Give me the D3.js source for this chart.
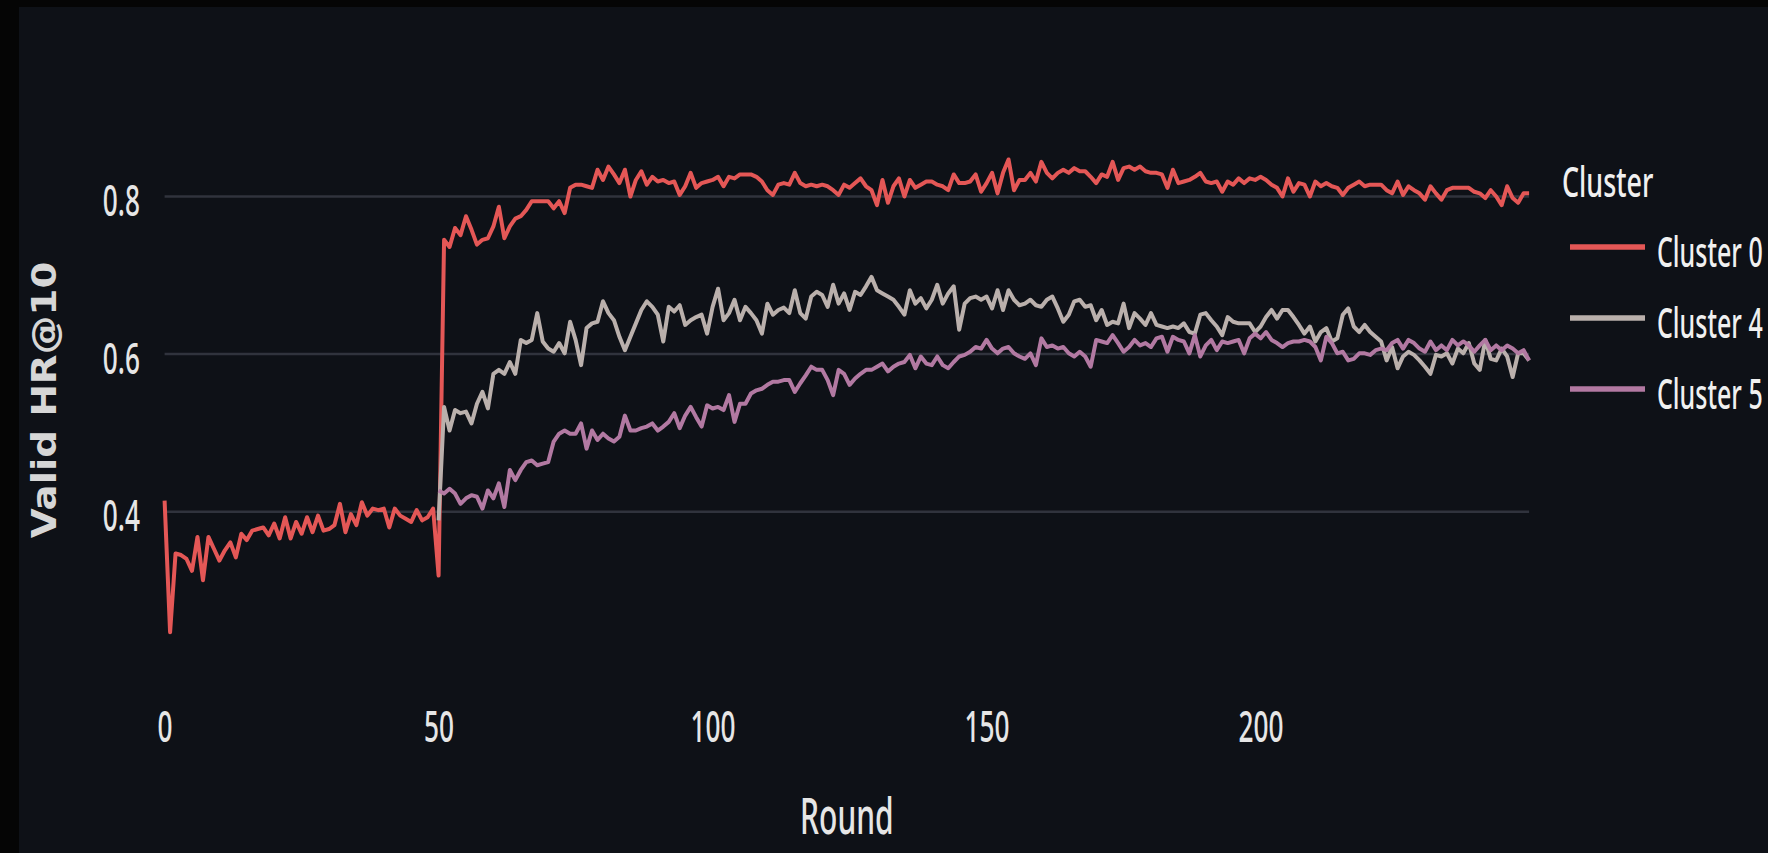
<!DOCTYPE html>
<html><head><meta charset="utf-8">
<script src="https://cdn.jsdelivr.net/npm/d3@7"></script>
<style>
html,body{margin:0;padding:0;background:#0e1117;overflow:hidden;}
svg{display:block;}
</style></head><body>
<svg id="chart" width="1768" height="853"></svg>
<script>
// ---- data ----
const xTicks = [0, 50, 100, 150, 200];
const yTicks = [0.4, 0.6, 0.8];
const seriesNames = ["Cluster 0", "Cluster 4", "Cluster 5"];
const seriesColors = ["#e45756", "#bab0ac", "#b279a2"];
const seriesStartRound = [0, 50, 50];
const lastRound = 249;

const cluster0 = [
.414,.247,.347,.345,.340,.325,.368,.313,.368,.353,
.338,.351,.361,.342,.372,.364,.376,.378,.380,.370,
.385,.366,.393,.366,.387,.372,.393,.374,.395,.376,
.378,.383,.410,.374,.397,.383,.412,.395,.404,.402,
.404,.380,.404,.395,.391,.387,.402,.389,.393,.404,
.319,.745,.736,.760,.751,.775,.758,.739,.745,.747,
.762,.787,.747,.762,.772,.775,.783,.794,.794,.794,
.794,.785,.794,.779,.811,.815,.815,.813,.811,.834,
.821,.838,.828,.817,.834,.800,.821,.832,.815,.825,
.819,.821,.817,.819,.802,.813,.830,.811,.817,.819,
.821,.825,.813,.825,.823,.828,.828,.828,.825,.819,
.808,.802,.815,.817,.815,.830,.817,.813,.815,.813,
.815,.813,.808,.802,.815,.811,.817,.823,.813,.808,
.789,.821,.792,.813,.823,.800,.821,.811,.815,.819,
.819,.815,.813,.808,.828,.817,.817,.819,.828,.806,
.817,.830,.804,.830,.847,.808,.821,.821,.830,.819,
.844,.830,.823,.830,.834,.830,.836,.832,.832,.825,
.817,.828,.825,.844,.821,.836,.838,.834,.838,.832,
.830,.830,.828,.811,
.834,.817,.819,.821,.825,.830,.819,.817,.819,.806,
.819,.815,.823,.817,.823,.821,.825,.821,.815,.811,
.800,.823,.806,.817,.815,.800,.819,.813,.817,.813,
.811,.802,.811,.815,.819,.813,.815,.815,.815,.808,
.804,.819,.802,.813,.808,.804,.796,.813,.804,.796,
.808,.811,.811,.811,.811,.806,.804,.798,.808,.800,
.789,.813,.798,.792,.804,.804
];

const cluster4 = [
.389,.533,.503,.529,.525,.527,.512,.537,.552,.531,.575,.580,
.575,.590,.575,.618,.614,.618,.652,.616,
.607,.603,.614,.601,.641,.618,.586,.633,.639,.641,
.667,.652,.643,.622,.605,.622,.639,.656,.667,.660,
.650,.616,.660,.654,.662,.637,.643,.647,.650,.626,
.660,.683,.643,.652,.669,.643,.660,.652,.643,.626,
.664,.650,.656,.659,.652,.681,.652,.645,.673,.679,
.675,.660,.688,.664,.677,.656,.679,.675,.686,.698,
.681,.677,.673,.669,.660,.650,.681,.664,.671,.658,
.669,.688,.664,.677,.686,.631,.664,.671,.673,.669,
.673,.658,.681,.656,.681,.669,.662,.664,.669,.662,
.660,.669,.673,.658,.641,.650,.667,.669,.660,.662,
.643,.656,.637,.641,.639,.664,.633,.652,.645,.637,
.652,.637,.635,.633,
.635,.633,.639,.628,.626,.650,.652,.643,.635,.624,
.647,.641,.639,.639,.639,.628,.635,.647,.656,.645,
.656,.656,.647,.637,.626,.635,.616,.628,.633,.616,
.620,.650,.658,.635,.628,.637,.628,.622,.616,.592,
.609,.582,.597,.603,.599,.592,.584,.575,.599,.597,
.601,.588,.607,.601,.614,.588,.580,.618,.594,.592,
.607,.597,.571,.601,.601,.592
];

const cluster5 = [
.427,.423,.429,.423,.410,.417,.421,.419,.404,.427,.417,.436,
.406,.453,.440,.453,.463,.465,.459,.461,
.463,.489,.499,.503,.499,.499,.512,.480,.503,.491,
.499,.493,.489,.495,.522,.503,.503,.506,.508,.512,
.503,.508,.514,.525,.506,.522,.533,.520,.508,.535,
.531,.533,.529,.548,.514,.537,.537,.550,.554,.556,
.561,.565,.565,.567,.567,.552,.563,.573,.584,.580,
.580,.567,.548,.580,.575,.561,.569,.575,.580,.580,
.584,.588,.578,.584,.588,.590,.599,.582,.597,.588,
.586,.597,.586,.582,.590,.597,.599,.603,.609,.607,
.618,.607,.601,.607,.609,.601,.597,.594,.601,.586,
.620,.609,.611,.607,.609,.601,.597,.603,.597,.584,
.618,.616,.614,.624,.614,.603,.609,.618,.611,.614,
.609,.620,.622,.603,
.622,.618,.616,.601,.624,.597,.611,.618,.605,.616,
.614,.616,.618,.601,.620,.626,.620,.628,.618,.614,
.609,.614,.616,.616,.618,.616,.609,.592,.622,.614,
.601,.603,.592,.594,.601,.601,.599,.605,.607,.605,
.614,.618,.607,.618,.614,.607,.603,.616,.605,.611,
.605,.618,.611,.616,.611,.603,.611,.618,.605,.611,
.605,.611,.607,.601,.605,.592
];

const seriesValues = [cluster0, cluster4, cluster5];

// ---- drawing ----
const svg = d3.select("#chart");
const W = 1768, H = 853;
const FONT = "'Noto Sans', 'Open Sans', sans-serif";
const SQ = 0.61; // horizontal squeeze of the narrow text

svg.append("rect").attr("width", W).attr("height", H).attr("fill", "#0e1117");
svg.append("rect").attr("x", 0).attr("y", 0).attr("width", 19).attr("height", H).attr("fill", "#050505");
svg.append("rect").attr("x", 0).attr("y", 0).attr("width", W).attr("height", 7).attr("fill", "#050505");

const x = d3.scaleLinear().domain([0, lastRound]).range([164.6, 1529.1]);
const y = d3.scaleLinear().domain([0.4, 0.8]).range([511.7, 196.5]);

// gridlines
svg.append("g").selectAll("line").data(yTicks).join("line")
  .attr("x1", x(0)).attr("x2", x(lastRound))
  .attr("y1", d => y(d)).attr("y2", d => y(d))
  .attr("stroke", "#30333d").attr("stroke-width", 2.5);

// y axis
const gy = svg.append("g").call(d3.axisLeft(y).tickValues(yTicks).tickSize(0).tickFormat(d3.format(".1f")));
gy.select(".domain").remove();
gy.selectAll("text")
  .attr("x", 140 / SQ).attr("dy", null).attr("y", 19)
  .attr("transform", `scale(${SQ},1)`)
  .attr("text-anchor", "end")
  .style("font-family", FONT).style("font-size", "43px").style("font-weight", "500").attr("fill", "#e6e6e6");

// x axis
const gx = svg.append("g").call(d3.axisBottom(x).tickValues(xTicks).tickSize(0).tickFormat(d3.format("d")));
gx.select(".domain").remove();
gx.selectAll("text")
  .attr("y", 742).attr("dy", null)
  .attr("transform", `scale(${SQ},1)`)
  .attr("text-anchor", "middle")
  .style("font-family", FONT).style("font-size", "43px").style("font-weight", "500").attr("fill", "#e6e6e6");

// axis titles
svg.append("text")
  .attr("transform", `translate(${(x(0) + x(lastRound)) / 2},834) scale(0.6,1)`)
  .attr("text-anchor", "middle")
  .style("font-family", FONT).style("font-size", "50px").style("font-weight", "500").attr("fill", "#e6e6e6")
  .text("Round");

svg.append("text")
  .attr("transform", "translate(56,400) rotate(-90) scale(1.14,1)")
  .attr("text-anchor", "middle")
  .style("font-family", "'DejaVu Sans', sans-serif").style("font-weight", "bold")
  .style("font-size", "34px").attr("fill", "#d6d6d6")
  .text("Valid HR@10");

// lines
const line = d3.line().x(d => x(d.r)).y(d => y(d.v));
seriesValues.forEach((vals, si) => {
  const pts = vals.map((v, i) => ({ r: seriesStartRound[si] + i, v }));
  svg.append("path").datum(pts)
    .attr("d", line)
    .attr("fill", "none")
    .attr("stroke", seriesColors[si])
    .attr("stroke-width", 4)
    .attr("stroke-linejoin", "round");
});

// legend
const lg = svg.append("g");
lg.append("text")
  .attr("transform", `translate(1562,197) scale(0.64,1)`)
  .style("font-family", FONT).style("font-size", "42px").style("font-weight", "500").attr("fill", "#f0f0f0")
  .text("Cluster");
seriesNames.forEach((name, i) => {
  const ly = 247 + i * 71;
  lg.append("line").attr("x1", 1570).attr("x2", 1645).attr("y1", ly).attr("y2", ly)
    .attr("stroke", seriesColors[i]).attr("stroke-width", 5.5);
  lg.append("text")
    .attr("transform", `translate(1657,${ly + 20}) scale(0.595,1)`)
    .style("font-family", FONT).style("font-size", "42px").style("font-weight", "500").attr("fill", "#f0f0f0")
    .text(name);
});
</script>
</body></html>
